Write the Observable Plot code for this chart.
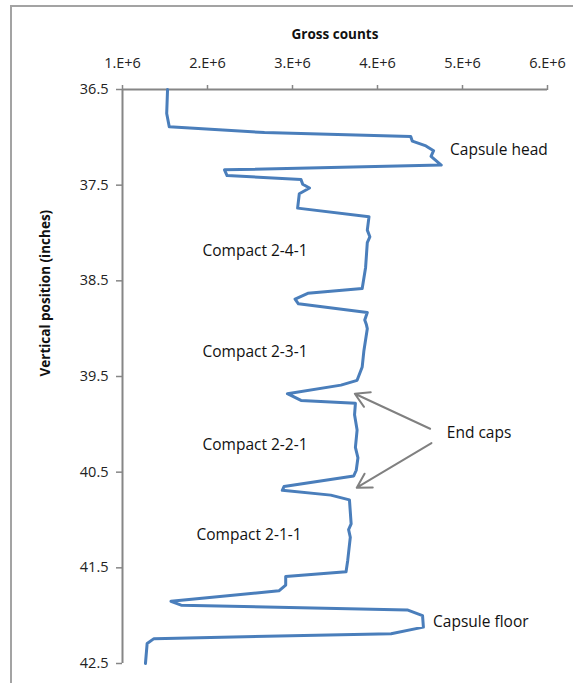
<!DOCTYPE html>
<html><head><meta charset="utf-8">
<script src="https://cdn.jsdelivr.net/npm/d3@7"></script>
<script src="https://cdn.jsdelivr.net/npm/@observablehq/plot@0.6"></script>
<style>
body{margin:0;background:#fff;}
#wrap{position:relative;width:573px;height:683px;overflow:hidden;}
#border{position:absolute;left:10px;top:5px;right:-10px;bottom:-10px;border-left:2px solid #a3a3a3;border-top:2px solid #a3a3a3;pointer-events:none;}
svg{position:absolute;left:0;top:0;}
</style></head><body><div id="wrap"><div id="border"></div></div>
<script>
// vertical position (inches)
const depth = [36.5,36.75,36.89,36.95,36.99,37.04,37.09,37.14,37.2,37.29,37.34,37.4,37.44,37.49,37.53,37.59,37.74,37.83,37.97,38.04,38.1,38.36,38.58,38.63,38.69,38.74,38.83,38.91,38.96,39.0,39.23,39.4,39.54,39.59,39.68,39.75,39.78,39.9,40.06,40.24,40.35,40.48,40.54,40.65,40.69,40.74,40.79,41.04,41.1,41.18,41.42,41.54,41.59,41.68,41.74,41.85,41.89,41.94,42.0,42.12,42.19,42.24,42.29,42.5];
// gross counts (millions)
const grossCounts = [1.53,1.52,1.55,2.67,4.39,4.41,4.57,4.66,4.63,4.75,2.2,2.23,3.1,3.12,3.2,3.08,3.06,3.9,3.88,3.91,3.88,3.86,3.82,3.18,3.03,3.07,3.88,3.85,3.87,3.88,3.84,3.82,3.76,3.57,2.94,3.1,3.74,3.73,3.76,3.74,3.77,3.75,3.72,2.9,2.88,3.45,3.67,3.69,3.66,3.68,3.65,3.63,2.92,2.92,2.84,1.57,1.69,4.35,4.53,4.54,4.16,1.37,1.29,1.27];

const xTicks = [1e6,2e6,3e6,4e6,5e6,6e6];
const xTickLabels = ["1.E+6","2.E+6","3.E+6","4.E+6","5.E+6","6.E+6"];
const yTicks = [36.5,37.5,38.5,39.5,40.5,41.5,42.5];
const yTickLabels = ["36.5","37.5","38.5","39.5","40.5","41.5","42.5"];

const xTitle = "Gross counts";
const yTitle = "Vertical position (inches)";

const labelText = ["Capsule head","Compact 2-4-1","Compact 2-3-1","End caps","Compact 2-2-1","Compact 2-1-1","Capsule floor"];
const labelX = [4.854,1.941,1.941,4.815,1.941,1.871,4.654];
const labelY = [37.13,38.19,39.245,40.09,40.213,41.16,42.066];

const arrowX1 = [4.619,4.635];
const arrowY1 = [40.046,40.196];
const arrowX2 = [3.733,3.756];
const arrowY2 = [39.68,40.662];

const series = depth.map((d,i)=>({depth:d, counts:grossCounts[i]*1e6}));
const labels = labelText.map((t,i)=>({text:t, x:labelX[i]*1e6, y:labelY[i]}));
const arrows = arrowX1.map((v,i)=>({x1:v*1e6, y1:arrowY1[i], x2:arrowX2[i]*1e6, y2:arrowY2[i]}));

const axisColor = "#868686";
const font = "'Open Sans', sans-serif";

const chart = Plot.plot({
  width: 573,
  height: 683,
  marginLeft: 122,
  marginTop: 89,
  marginRight: 26,
  marginBottom: 20,
  style: {fontFamily: font, background: "transparent", overflow: "visible"},
  x: {domain: [1e6, 6e6], label: null},
  y: {domain: [36.5, 42.5], reverse: true, label: null},
  marks: [
    Plot.ruleX([1e6], {stroke: axisColor, strokeWidth: 2}),
    Plot.ruleY([36.5], {stroke: axisColor, strokeWidth: 2}),
    Plot.axisX({anchor: "top", ticks: xTicks, tickFormat: (d,i)=>xTickLabels[xTicks.indexOf(d)], tickSize: 5, tickPadding: 17, stroke: axisColor, strokeWidth: 1.5, fill: "#222", fontSize: 14.5, label: null}),
    Plot.axisY({anchor: "left", ticks: yTicks, tickFormat: (d)=>yTickLabels[yTicks.indexOf(d)], tickSize: 6, tickPadding: 8, stroke: axisColor, strokeWidth: 1.5, fill: "#222", fontSize: 14.5, label: null}),
    Plot.text([xTitle], {frameAnchor: "top", dy: -60, fontWeight: "bold", fontSize: 13.5, fill: "#111"}),
    Plot.text([yTitle], {frameAnchor: "left", dx: -77, rotate: -90, fontWeight: "bold", fontSize: 13.5, fill: "#111"}),
    Plot.line(series, {x: "counts", y: "depth", stroke: "#4a7ebb", strokeWidth: 3, strokeLinejoin: "round", strokeLinecap: "round"}),
    Plot.arrow(arrows, {x1: "x1", y1: "y1", x2: "x2", y2: "y2", stroke: "#808080", strokeWidth: 2, headLength: 12, bend: 0}),
    Plot.text(labels, {x: "x", y: "y", text: "text", textAnchor: "start", fontSize: 15.5, fill: "#111"})
  ]
});
document.getElementById("wrap").appendChild(chart);
</script>
</body></html>
